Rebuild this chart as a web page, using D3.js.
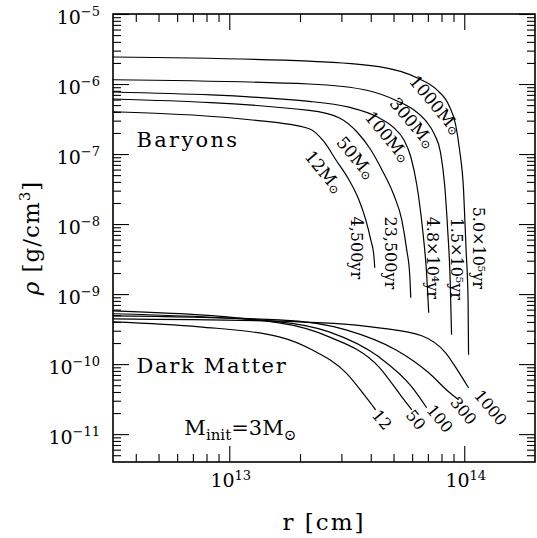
<!DOCTYPE html>
<html>
<head>
<meta charset="utf-8">
<script src="https://cdn.jsdelivr.net/npm/d3@7"></script>
<style>
body { margin: 0; background: #fff; }
text { font-family: "DejaVu Serif", serif; fill: #000; }
</style>
</head>
<body>
<svg id="chart" width="537" height="538"></svg>
<script>
var width = 537, height = 538;
var plotL = 113, plotR = 535, plotT = 14, plotB = 462;

// axis ranges and ticks
var rDomain = [3.2e12, 2e14];
var rhoDomain = [4e-12, 1e-5];
var rMajor = [1e13, 1e14];
var rhoMajor = [1e-11, 1e-10, 1e-9, 1e-8, 1e-7, 1e-6, 1e-5];

// baryon profiles [r (cm), rho (g/cm^3)]
var baryon12 = [[3.19e12, 4.02e-7], [1.22e13, 3.09e-7], [2.19e13, 2.3e-7], [2.53e13, 1.5e-7], [2.84e13, 8.3e-8], [3.23e13, 4.29e-8], [3.56e13, 2.22e-8], [3.81e13, 1.15e-8], [4.0e13, 5.97e-9], [4.12e13, 3.64e-9], [4.16e13, 2.38e-9]];
var baryon50 = [[3.19e12, 6.11e-7], [2.19e13, 4.2e-7], [2.93e13, 3.3e-7], [3.49e13, 2.08e-7], [4.0e13, 1.15e-7], [4.46e13, 5.97e-8], [5.01e13, 2.62e-8], [5.42e13, 1.15e-8], [5.69e13, 4.29e-9], [5.86e13, 1.89e-9], [5.92e13, 8.85e-10]];
var baryon100 = [[3.19e12, 7.69e-7], [2.19e13, 5.64e-7], [3.23e13, 4.67e-7], [4.25e13, 3.41e-7], [5.01e13, 2.38e-7], [5.53e13, 1.6e-7], [5.92e13, 9.14e-8], [6.28e13, 3.64e-8], [6.65e13, 8.3e-9], [6.92e13, 1.89e-9], [7.06e13, 5.41e-10]];
var baryon300 = [[3.19e12, 1.15e-6], [2.19e13, 1.0e-6], [3.93e13, 8.02e-7], [5.16e13, 5.77e-7], [6.09e13, 4.29e-7], [6.85e13, 2.99e-7], [7.48e13, 1.89e-7], [7.93e13, 1.04e-7], [8.25e13, 3.64e-8], [8.5e13, 8.3e-9], [8.71e13, 1.6e-9], [8.83e13, 2.62e-10]];
var baryon1000 = [[3.19e12, 2.43e-6], [2.19e13, 2.12e-6], [4.33e13, 1.77e-6], [6.28e13, 1.23e-6], [7.63e13, 8.3e-7], [8.58e13, 5.06e-7], [9.19e13, 2.62e-7], [9.55e13, 1.15e-7], [9.93e13, 3.09e-8], [1.018e14, 4.29e-9], [1.038e14, 8.3e-10], [1.043e14, 1.36e-10]];

// dark matter profiles
var dm12 = [[3.19e12, 4.02e-10], [7.46e12, 3.41e-10], [1.63e13, 2.45e-10], [2.25e13, 1.6e-10], [3.14e13, 7.51e-11], [3.81e13, 3.41e-11], [4.2e13, 2.22e-11]];
var dm50 = [[3.19e12, 5.77e-10], [1.63e13, 3.89e-10], [2.66e13, 2.45e-10], [4.33e13, 9.14e-11], [5.42e13, 3.41e-11], [5.98e13, 2.22e-11]];
var dm100 = [[3.19e12, 5.24e-10], [1.63e13, 4.02e-10], [2.66e13, 2.89e-10], [4.33e13, 1.27e-10], [5.98e13, 4.74e-11], [6.92e13, 2.38e-11]];
var dm300 = [[3.19e12, 4.9e-10], [1.63e13, 4.29e-10], [3.14e13, 3.09e-10], [5.11e13, 1.6e-10], [7.06e13, 7.51e-11], [8.58e13, 4.02e-11], [9.46e13, 3.09e-11]];
var dm1000 = [[3.19e12, 4.44e-10], [1.98e13, 4.02e-10], [4.33e13, 3.3e-10], [6.59e13, 2.54e-10], [8.33e13, 1.45e-10], [9.46e13, 7.76e-11], [1.043e14, 4.58e-11]];

// curve labels: text, anchor r, anchor rho
var massLabels = [["12", 2.53e13, 5.58e-8], ["50", 3.46e13, 8.85e-8], ["100", 4.73e13, 1.77e-7], ["300", 6.03e13, 2.8e-7], ["1000", 7.55e13, 5.06e-7]];
var ageLabels = [["4,500yr", 3.49e13, 4.58e-9], ["23,500yr", 4.87e13, 3.89e-9], ["4.8×10⁴yr", 7.34e13, 3.3e-9], ["1.5×10⁵yr", 9.27e13, 3.19e-9], ["5.0×10⁵yr", 1.145e14, 4.58e-9]];
var dmLabels = [["12", 4.46e13, 1.6e-11], ["50", 6.21e13, 1.6e-11], ["100", 7.86e13, 1.66e-11], ["300", 9.93e13, 2.15e-11], ["1000", 1.293e14, 2.38e-11]];

var svg = d3.select("#chart");

var x = d3.scaleLog().domain(rDomain).range([plotL, plotR]);
var y = d3.scaleLog().domain(rhoDomain).range([plotB, plotT]);

function minors(lo, hi) {
	var out = [];
	for (var e = Math.floor(Math.log10(lo)); e <= Math.ceil(Math.log10(hi)); e++) {
		for (var k = 2; k <= 9; k++) {
			var v = k * Math.pow(10, e);
			if (v > lo * 1.001 && v < hi * 0.999) out.push(v);
		}
	}
	return out;
}
var rMinor = minors(rDomain[0], rDomain[1]);
var rhoMinor = minors(rhoDomain[0], rhoDomain[1]);

function drawAxis(axisFn, scale, vals, len, tx, ty) {
	var g = svg.append("g")
		.attr("transform", "translate(" + tx + "," + ty + ")")
		.call(axisFn(scale).tickValues(vals).tickSize(-len).tickFormat(function() { return ""; }));
	g.select(".domain").remove();
	g.selectAll("line").attr("stroke", "#000").attr("stroke-width", 1.1);
	return g;
}

// ticks on all four sides, pointing inward
drawAxis(d3.axisLeft, y, rhoMinor, 8, plotL, 0);
var yMaj = drawAxis(d3.axisLeft, y, rhoMajor, 16, plotL, 0);
drawAxis(d3.axisRight, y, rhoMinor, 8, plotR, 0);
drawAxis(d3.axisRight, y, rhoMajor, 16, plotR, 0);
drawAxis(d3.axisBottom, x, rMinor, 8, 0, plotB);
var xMaj = drawAxis(d3.axisBottom, x, rMajor, 16, 0, plotB);
drawAxis(d3.axisTop, x, rMinor, 8, 0, plotT);
drawAxis(d3.axisTop, x, rMajor, 16, 0, plotT);

// y tick labels 10^-n
yMaj.selectAll(".tick").append("text")
	.attr("x", -13).attr("y", 9)
	.attr("text-anchor", "end")
	.style("font-size", "19px")
	.each(function(d) {
		var t = d3.select(this);
		t.append("tspan").text("10");
		t.append("tspan").attr("dy", -8).style("font-size", "13px").text("−" + (-Math.round(Math.log10(d))));
	});

// x tick labels
xMaj.selectAll(".tick").append("text")
	.attr("x", 1).attr("y", 25)
	.attr("text-anchor", "middle")
	.style("font-size", "19px")
	.each(function(d) {
		var t = d3.select(this);
		t.append("tspan").text("10");
		t.append("tspan").attr("dy", -7).style("font-size", "13px").text(Math.round(Math.log10(d)));
	});

// frame
svg.append("rect")
	.attr("x", plotL).attr("y", plotT)
	.attr("width", plotR - plotL).attr("height", plotB - plotT)
	.attr("fill", "none").attr("stroke", "#000").attr("stroke-width", 1.6);

var line = d3.line()
	.x(function(d) { return x(d[0]); })
	.y(function(d) { return y(d[1]); })
	.curve(d3.curveMonotoneX);

var curves = [baryon12, baryon50, baryon100, baryon300, baryon1000, dm12, dm50, dm100, dm300, dm1000];
svg.append("g").selectAll("path")
	.data(curves)
	.join("path")
	.attr("d", line)
	.attr("fill", "none")
	.attr("stroke", "#000")
	.attr("stroke-width", 1.2);

// mass labels along baryon curves
svg.append("g").selectAll("text")
	.data(massLabels)
	.join("text")
	.attr("transform", function(d) { return "translate(" + x(d[1]) + "," + y(d[2]) + ") rotate(50)"; })
	.attr("text-anchor", "middle")
	.attr("dominant-baseline", "central")
	.style("font-size", "17px")
	.each(function(d) {
		var t = d3.select(this);
		t.append("tspan").text(d[0] + "M");
		t.append("tspan").attr("dy", 4).style("font-size", "12px").text("⊙");
	});

svg.append("g").selectAll("text")
	.data(ageLabels)
	.join("text")
	.attr("transform", function(d) { return "translate(" + x(d[1]) + "," + y(d[2]) + ") rotate(90)"; })
	.attr("text-anchor", "middle")
	.attr("dominant-baseline", "central")
	.style("font-size", "16px")
	.text(function(d) { return d[0]; });

svg.append("g").selectAll("text")
	.data(dmLabels)
	.join("text")
	.attr("transform", function(d) { return "translate(" + x(d[1]) + "," + y(d[2]) + ") rotate(50)"; })
	.attr("text-anchor", "middle")
	.attr("dominant-baseline", "central")
	.style("font-size", "16px")
	.text(function(d) { return d[0]; });

// panel annotations
svg.append("text").attr("x", x(4.03e12)).attr("y", y(1.27e-7))
	.style("font-size", "21px").style("letter-spacing", "2.3px").text("Baryons");
svg.append("text").attr("x", x(4.03e12)).attr("y", y(7.51e-11))
	.style("font-size", "21px").style("letter-spacing", "1.7px").text("Dark Matter");
var mi = svg.append("text").attr("x", x(6.44e12)).attr("y", y(9.77e-12)).style("font-size", "21px");
mi.append("tspan").text("M");
mi.append("tspan").attr("dy", 5).style("font-size", "15px").text("init");
mi.append("tspan").attr("dy", -5).text("=3M");
mi.append("tspan").attr("dy", 5).style("font-size", "15px").text("⊙");

// axis titles
svg.append("text").attr("x", (plotL + plotR) / 2).attr("y", 530)
	.attr("text-anchor", "middle").style("font-size", "23px").style("letter-spacing", "2px").text("r [cm]");
var yt = svg.append("text")
	.attr("transform", "translate(39," + ((plotT + plotB) / 2) + ") rotate(-90)")
	.attr("text-anchor", "middle").style("font-size", "23px").style("letter-spacing", "1px");
yt.append("tspan").style("font-style", "italic").text("ρ");
yt.append("tspan").text("  [g/cm");
yt.append("tspan").attr("dy", -9).style("font-size", "15px").text("3");
yt.append("tspan").attr("dy", 9).text("]");
</script>
</body>
</html>
